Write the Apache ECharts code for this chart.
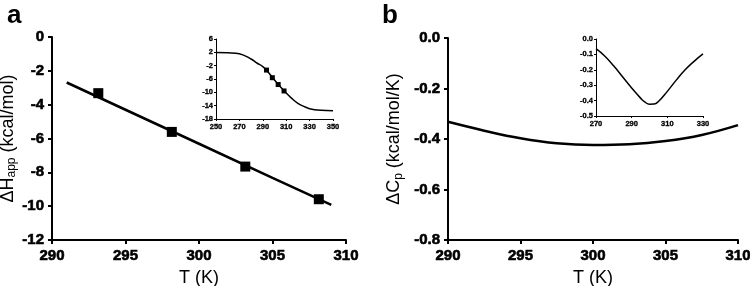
<!DOCTYPE html>
<html lang="en">
<head>
  <meta charset="UTF-8">
  <title>Echarts</title>
  <script src="https://cdn.jsdelivr.net/npm/echarts@6/dist/echarts.min.js"></script>
  <style>
    html, body { margin: 0; padding: 0; background: #fff; }
    #chart { width: 750px; height: 286px; }
  </style>
</head>
<body>
  <div id="chart"></div>
  <script>
    // panel a: apparent enthalpy vs temperature
    const aLineT = [291, 295, 300, 305, 309];
    const aLineH = [-2.69, -4.30, -6.31, -8.33, -9.93];
    const aPtsT = [293.15, 298.15, 303.15, 308.15];
    const aPtsH = [-3.32, -5.61, -7.66, -9.59];
    // inset a: sigmoid over wider range
    const aInsetT = [250, 260, 270, 280, 285, 290, 295, 300, 305, 310, 315, 320, 325, 330, 340, 350];
    const aInsetH = [1.96, 1.87, 1.57, 0.0, -1.2, -2.3, -4.1, -6.3, -8.3, -10.2, -11.9, -13.3, -14.2, -14.9, -15.4, -15.55];
    // panel b: heat capacity change
    const bT = [290, 292.5, 295, 297.5, 300, 302.5, 305, 307.5, 310];
    const bCp = [-0.332, -0.367, -0.397, -0.417, -0.424, -0.421, -0.408, -0.384, -0.345];
    const bInsetT = [270, 275, 280, 285, 290, 295, 297.5, 300, 302.5, 305, 310, 315, 320, 325, 330];
    const bInsetCp = [-0.063, -0.112, -0.176, -0.247, -0.318, -0.384, -0.410, -0.423, -0.422, -0.406, -0.340, -0.267, -0.200, -0.145, -0.097];
    // tick settings
    const aYTicks = { min: -12, max: 0, interval: 2 };
    const bYTicks = { min: -0.8, max: 0, interval: 0.2 };
    const mainXTicks = { min: 290, max: 310, interval: 5 };
    const aInsetX = { min: 250, max: 350, interval: 20 };
    const aInsetY = { min: -18, max: 6, interval: 4 };
    const bInsetX = { min: 270, max: 330, interval: 20 };
    const bInsetY = { min: -0.5, max: 0, interval: 0.1 };

    const font = 'Arial, sans-serif';
    const pair = (xs, ys) => xs.map((x, i) => [x, ys[i]]);

    function axis(gridIndex, ticks, opts) {
      const big = !opts.small;
      const label = {
        color: '#000',
        fontFamily: font,
        fontWeight: 'bold',
        fontSize: big ? 15 : 7.5,
        margin: opts.margin || (big ? 6 : 3),
        showMinLabel: true, showMaxLabel: true,
        // thin outline so the numbers read as heavy as the original
        textBorderColor: '#000',
        textBorderWidth: big ? 0.6 : 0.3
      };
      if (opts.fmt) label.formatter = opts.fmt;
      return Object.assign({
        type: 'value',
        gridIndex: gridIndex,
        min: ticks.min, max: ticks.max, interval: ticks.interval,
        splitLine: { show: false },
        axisLine: { show: true, onZero: false, lineStyle: { color: '#000', width: big ? 2 : 1 } },
        axisTick: { show: true, length: big ? 4 : 2, lineStyle: { color: '#000', width: big ? 2 : 1 } },
        axisLabel: label
      }, opts.extra || {});
    }

    const xTitle = {
      name: 'T (K)', nameLocation: 'middle', nameGap: 29,
      nameTextStyle: { color: '#000', fontFamily: font, fontSize: 18 }
    };
    const richName = {
      t: { color: '#000', fontFamily: font, fontSize: 18 },
      s: { color: '#000', fontFamily: font, fontSize: 12, padding: [9, 0, 0, 0] }
    };

    const myChart = echarts.init(document.getElementById('chart'), null, { renderer: 'canvas' });
    const option = {
      backgroundColor: '#fff',
      animation: false,
      title: [
        { text: 'a', left: 2, top: -2, textStyle: { fontFamily: font, fontSize: 26, fontWeight: 'bold', color: '#000' } },
        { text: 'b', left: 377, top: -2, textStyle: { fontFamily: font, fontSize: 26, fontWeight: 'bold', color: '#000' } }
      ],
      // fixed plot boxes, no auto shrinking for labels
      grid: [
        { left: 52, top: 37, width: 294, height: 203, outerBoundsMode: 'none', containLabel: false },   // main a
        { left: 216, top: 39, width: 117, height: 80, outerBoundsMode: 'none', containLabel: false },   // inset a
        { left: 448, top: 38, width: 290, height: 202, outerBoundsMode: 'none', containLabel: false },  // main b
        { left: 596, top: 39, width: 107, height: 77, outerBoundsMode: 'none', containLabel: false }    // inset b
      ],
      xAxis: [
        axis(0, mainXTicks, { margin: 8, extra: xTitle }),
        axis(1, aInsetX, { small: true, margin: 4 }),
        axis(2, mainXTicks, { margin: 8, extra: xTitle }),
        axis(3, bInsetX, { small: true, margin: 4 })
      ],
      yAxis: [
        axis(0, aYTicks, { margin: 8, extra: { name: '{t|ΔH}{s|app}{t| (kcal/mol)}', nameLocation: 'middle', nameGap: 26, nameTextStyle: { rich: richName } } }),
        axis(1, aInsetY, { small: true }),
        axis(2, bYTicks, { margin: 8, fmt: v => v.toFixed(1), extra: { name: '{t|ΔC}{s|p}{t| (kcal/mol/K)}', nameLocation: 'middle', nameGap: 43, nameTextStyle: { rich: richName } } }),
        axis(3, bInsetY, { small: true, fmt: v => v.toFixed(1) })
      ],
      series: [
        { type: 'line', xAxisIndex: 0, yAxisIndex: 0, data: pair(aLineT, aLineH), showSymbol: false, lineStyle: { color: '#000', width: 2.5 } },
        { type: 'scatter', xAxisIndex: 0, yAxisIndex: 0, data: pair(aPtsT, aPtsH), symbol: 'rect', symbolSize: 10, itemStyle: { color: '#000', opacity: 1 } },
        { type: 'line', xAxisIndex: 1, yAxisIndex: 1, data: pair(aInsetT, aInsetH), smooth: 0.4, showSymbol: false, lineStyle: { color: '#000', width: 1.5 } },
        { type: 'scatter', xAxisIndex: 1, yAxisIndex: 1, data: pair(aPtsT, aPtsH), symbol: 'rect', symbolSize: 5, itemStyle: { color: '#000', opacity: 1 } },
        { type: 'line', xAxisIndex: 2, yAxisIndex: 2, data: pair(bT, bCp), smooth: 0.4, showSymbol: false, lineStyle: { color: '#000', width: 2.5 } },
        { type: 'line', xAxisIndex: 3, yAxisIndex: 3, data: pair(bInsetT, bInsetCp), smooth: 0.5, showSymbol: false, lineStyle: { color: '#000', width: 1.5 } }
      ]
    };
    myChart.setOption(option);
  </script>
</body>
</html>
